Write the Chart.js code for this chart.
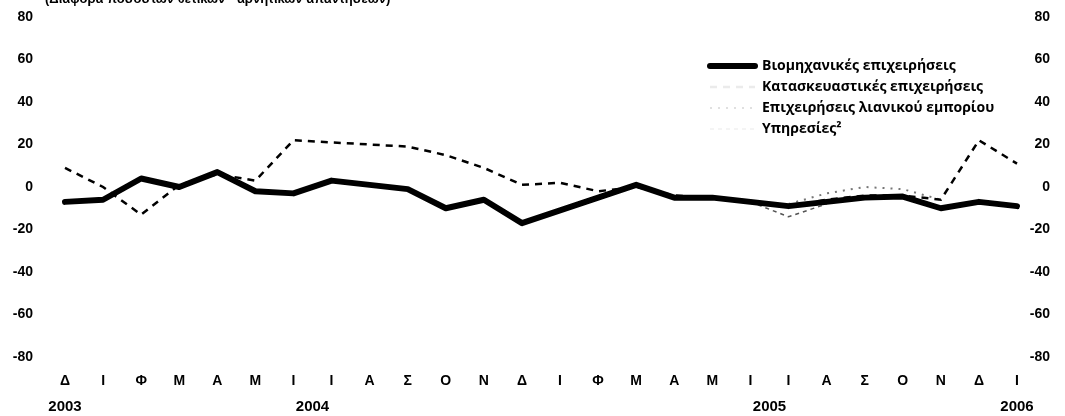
<!DOCTYPE html>
<html>
<head>
<meta charset="utf-8">
<script src="https://cdn.jsdelivr.net/npm/chart.js@4"></script>
<style>
html, body { margin: 0; padding: 0; background: #fff; }
</style>
</head>
<body>
<canvas id="chart" width="1065" height="416"></canvas>
<script>
// Dec 2003 .. Jan 2006, Greek month initials
const months = ['Δ', 'Ι', 'Φ', 'Μ', 'Α', 'Μ', 'Ι', 'Ι', 'Α', 'Σ', 'Ο', 'Ν', 'Δ',
                'Ι', 'Φ', 'Μ', 'Α', 'Μ', 'Ι', 'Ι', 'Α', 'Σ', 'Ο', 'Ν', 'Δ', 'Ι'];
const years = ['2003', '2004', '2005', '2006'];
const monthsInYear = [1, 12, 12, 1];

const industry     = [-7, -6, 4, 0, 7, -2, -3, 3, 1, -1, -10, -6, -17, -11, -5, 1, -5, -5, -7, -9, -7, -5, -4.5, -10, -7, -9];
const construction = [9, 0, -13, 1, 6, 3, 22, 21, 20, 19, 15, 9, 1, 2, -2, 0, -4, -5, -7, -9, -6, -4, -4, -6, 22, 11];
const retail       = [null, null, null, null, null, null, null, null, null, null, null, null, null,
                      null, null, null, null, null, null, -8, -3, 0, -1, -6, null, null];
const services     = [null, null, null, null, null, null, null, null, null, null, null, null, null,
                      null, null, null, null, null, -7, -14, -8, null, null, null, null, null];

const seriesNames = ['Βιομηχανικές επιχειρήσεις', 'Κατασκευαστικές επιχειρήσεις',
                     'Επιχειρήσεις λιανικού εμπορίου', 'Υπηρεσίες²'];
const subtitle = '(Διαφορά ποσοστών θετικών - αρνητικών απαντήσεων)';

const axisFont = { family: 'Liberation Sans', size: 14, weight: 'bold' };

// legend drawn inside the plot, right side
const sideLegend = {
    id: 'sideLegend',
    afterDraw(chart, args, o) {
        const ctx = chart.ctx;
        ctx.save();
        chart.data.datasets.forEach((ds, i) => {
            const y = o.y + i * o.rowGap;
            ctx.strokeStyle = ds.legendColor || ds.borderColor;
            ctx.lineWidth = ds.borderWidth;
            ctx.lineCap = ds.borderCapStyle || 'butt';
            ctx.setLineDash(ds.borderDash || []);
            ctx.beginPath(); ctx.moveTo(o.x, y); ctx.lineTo(o.x + o.sample, y); ctx.stroke();
            ctx.setLineDash([]);
            ctx.fillStyle = '#000';
            ctx.font = o.font;
            ctx.textBaseline = 'middle';
            ctx.fillText(ds.label, o.x + o.sample + o.gap, y);
        });
        ctx.restore();
    }
};

// year row under the month initials, centred on each year's months
const yearRow = {
    id: 'yearRow',
    afterDraw(chart, args, o) {
        const x = chart.scales.x, ctx = chart.ctx;
        ctx.save();
        ctx.fillStyle = '#000';
        ctx.font = o.font;
        ctx.textAlign = 'center';
        ctx.textBaseline = 'middle';
        let start = 0;
        years.forEach((yr, i) => {
            const mid = start + (monthsInYear[i] - 1) / 2;
            ctx.fillText(yr, x.getPixelForValue(mid), o.y);
            start += monthsInYear[i];
        });
        ctx.restore();
    }
};

// subtitle, cut off at the top edge as in the scan
const topNote = {
    id: 'topNote',
    afterDraw(chart, args, o) {
        const ctx = chart.ctx;
        ctx.save();
        ctx.fillStyle = '#000';
        ctx.font = o.font;
        ctx.textBaseline = 'alphabetic';
        ctx.fillText(subtitle, o.x, o.y);
        ctx.restore();
    }
};

// fixed axis widths; drop the extra top/bottom padding the tick padding adds
const fixWidth = w => s => { s.width = w; s.paddingTop = 0; s.paddingBottom = 0; };

new Chart(document.getElementById('chart'), {
    type: 'line',
    data: {
        labels: months,
        datasets: [
            { label: seriesNames[0], data: industry, borderColor: '#000', borderWidth: 6,
              borderCapStyle: 'round', borderJoinStyle: 'round', pointRadius: 0, order: 1 },
            { label: seriesNames[1], data: construction, borderColor: '#000', borderWidth: 2.5,
              borderDash: [7, 6], pointRadius: 0, legendColor: 'rgba(0,0,0,0.08)', order: 2 },
            { label: seriesNames[2], data: retail, borderColor: '#777', borderWidth: 2,
              borderDash: [2, 6], pointRadius: 0, legendColor: 'rgba(0,0,0,0.12)', order: 3 },
            { label: seriesNames[3], data: services, borderColor: '#555', borderWidth: 1.5,
              borderDash: [4, 4], pointRadius: 0, legendColor: 'rgba(0,0,0,0.06)', order: 4 }
        ]
    },
    options: {
        responsive: false,
        animation: false,
        layout: { padding: { top: 17, right: 15, left: 0, bottom: 0 } },
        elements: { line: { tension: 0 } },
        plugins: {
            legend: { display: false },
            tooltip: { enabled: false },
            sideLegend: { x: 710, y: 66, rowGap: 21, sample: 45, gap: 7,
                          font: 'bold 14px "Open Sans"' },
            yearRow: { y: 407, font: 'bold 15px "Liberation Sans"' },
            topNote: { x: 45, y: 3, font: 'bold 13px "Liberation Sans"' }
        },
        scales: {
            x: {
                offset: false,
                grid: { display: false, drawTicks: false },
                border: { display: false },
                ticks: { autoSkip: false, maxRotation: 0, padding: 16, color: '#000', font: axisFont },
                afterFit: s => { s.height = 59; }
            },
            y: {
                position: 'left', min: -80, max: 80,
                grid: { display: false, drawTicks: false },
                border: { display: false },
                ticks: { stepSize: 20, padding: 32, color: '#000', font: axisFont },
                afterFit: fixWidth(65)
            },
            y2: {
                position: 'right', min: -80, max: 80,
                grid: { display: false, drawTicks: false },
                border: { display: false },
                ticks: { stepSize: 20, padding: 8, crossAlign: 'far', color: '#000', font: axisFont },
                afterFit: fixWidth(33)
            }
        }
    },
    plugins: [sideLegend, yearRow, topNote]
});
</script>
</body>
</html>
